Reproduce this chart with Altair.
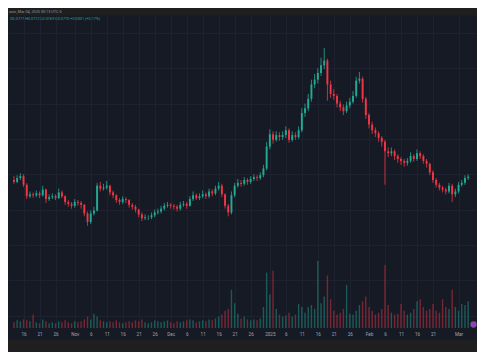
import altair as alt
import pandas as pd

# ---- data (prices in units of 0.0001) ----
first_date = "2024-10-13"
first_open = 760
close = [754, 766, 772, 745, 709, 715, 712, 718, 712, 730,
         700, 706, 709, 703, 721, 709, 691, 685, 679, 691,
         688, 682, 655, 628, 655, 664, 742, 733, 736, 742,
         721, 712, 697, 691, 700, 697, 682, 676, 667, 652,
         640, 643, 643, 649, 658, 661, 670, 679, 682, 679,
         676, 670, 682, 685, 679, 700, 712, 703, 709, 715,
         709, 724, 718, 733, 742, 715, 679, 658, 712, 742,
         751, 748, 760, 754, 763, 769, 766, 775, 796, 865,
         904, 886, 901, 895, 901, 916, 886, 901, 895, 916,
         970, 985, 1015, 1060, 1075, 1096, 1120, 1135, 1060, 1030,
         1024, 1000, 988, 976, 994, 1006, 1024, 1072, 1078, 1015,
         964, 934, 916, 907, 892, 880, 850, 844, 850, 835,
         826, 820, 814, 820, 835, 826, 844, 835, 820, 811,
         784, 760, 745, 736, 730, 724, 742, 715, 724, 745,
         751, 766, 770]
high = [772, 775, 781, 778, 750, 724, 721, 727, 724, 742,
        733, 715, 718, 715, 733, 727, 712, 697, 691, 700,
        697, 694, 685, 661, 664, 676, 751, 754, 748, 757,
        745, 727, 715, 703, 709, 706, 700, 688, 682, 670,
        658, 652, 649, 658, 667, 670, 679, 688, 691, 688,
        685, 682, 691, 694, 691, 709, 724, 718, 718, 727,
        721, 733, 730, 742, 754, 748, 718, 685, 724, 751,
        763, 760, 769, 766, 772, 778, 775, 784, 808, 880,
        919, 913, 913, 910, 913, 928, 922, 913, 910, 928,
        985, 1000, 1030, 1075, 1093, 1111, 1144, 1174, 1141, 1072,
        1045, 1030, 1009, 997, 1006, 1018, 1039, 1084, 1099, 1084,
        1021, 970, 943, 925, 913, 898, 886, 862, 862, 856,
        841, 832, 826, 829, 847, 841, 856, 850, 841, 826,
        814, 790, 766, 751, 742, 736, 751, 748, 733, 754,
        760, 775, 778]
low = [748, 750, 760, 738, 700, 703, 704, 706, 703, 708,
       688, 694, 700, 697, 700, 703, 682, 676, 670, 673,
       679, 670, 646, 616, 622, 649, 661, 724, 727, 730,
       712, 703, 688, 682, 685, 688, 673, 667, 658, 643,
       631, 634, 634, 637, 643, 652, 655, 664, 673, 670,
       667, 661, 664, 676, 670, 676, 694, 697, 697, 703,
       700, 703, 709, 712, 727, 706, 670, 646, 652, 706,
       736, 739, 742, 745, 748, 757, 757, 760, 769, 790,
       856, 874, 880, 883, 886, 892, 877, 880, 886, 889,
       910, 958, 976, 1006, 1048, 1063, 1087, 1108, 1009, 1018,
       1012, 988, 976, 964, 970, 985, 1000, 1018, 1063, 1003,
       952, 922, 904, 895, 880, 865, 745, 832, 835, 823,
       814, 808, 802, 805, 814, 817, 820, 826, 811, 799,
       775, 751, 736, 727, 721, 715, 718, 691, 706, 718,
       739, 745, 760]
volume = [6, 8, 7, 9, 8, 7, 14, 6, 5, 9,
          7, 5, 6, 5, 7, 6, 8, 6, 5, 7,
          6, 7, 9, 12, 9, 15, 12, 8, 7, 6,
          7, 6, 8, 6, 5, 6, 7, 6, 8, 7,
          9, 6, 5, 6, 8, 7, 6, 7, 8, 6,
          5, 7, 6, 7, 8, 9, 8, 6, 7, 8,
          7, 9, 8, 10, 12, 14, 18, 20, 40, 26,
          15, 10, 12, 9, 8, 9, 8, 10, 22, 58,
          35, 60, 20, 14, 12, 13, 16, 12, 14, 25,
          22, 16, 22, 24, 20, 70, 26, 33, 55, 30,
          18, 14, 16, 20, 45, 15, 14, 18, 24, 28,
          33, 22, 18, 14, 16, 20, 66, 24, 16, 14,
          15, 25, 18, 14, 16, 20, 28, 30, 22, 18,
          20, 25, 18, 16, 30, 22, 20, 40, 22, 18,
          25, 24, 28]

tick_dates = ["2024-10-16", "2024-10-21", "2024-10-26", "2024-11-01", "2024-11-06",
              "2024-11-11", "2024-11-16", "2024-11-21", "2024-11-26", "2024-12-01",
              "2024-12-06", "2024-12-11", "2024-12-16", "2024-12-21", "2024-12-26",
              "2025-01-01", "2025-01-06", "2025-01-11", "2025-01-16", "2025-01-21",
              "2025-01-26", "2025-02-01", "2025-02-06", "2025-02-11", "2025-02-16",
              "2025-02-21", "2025-03-01"]
grid_prices = [1222, 1111, 1000, 889, 778, 667, 556, 445, 334]

header_text = "coin, Mar 04, 2025 00:13 UTC-5"
ohlc_text = "O0.0771 H0.0772 L0.0769 C0.0770 +0.0001 (+0.17%)"

# ---- styling ----
BG = "#161a25"
STRIP = "#1f1f1f"
GRID = "#1e2230"
UP = "#22ab94"
DOWN = "#f23645"
W, H = 469, 320

opens = [first_open] + close[:-1]
dates = pd.date_range(first_date, periods=len(close), freq="D").strftime("%Y-%m-%dT%H:%M:%SZ")
df = pd.DataFrame({
    "date": dates,
    "open": [v / 10000 for v in opens],
    "close": [v / 10000 for v in close],
    "high": [v / 10000 for v in high],
    "low": [v / 10000 for v in low],
    "volume": volume,
})


def dt(s, h=0, m=0):
    y, mo, d = (int(p) for p in s.split("-"))
    return alt.DateTime(year=y, month=mo, date=d, hours=h, minutes=m, utc=True)


xscale = alt.Scale(type="utc", domain=[dt("2024-10-12", 16, 54), dt("2025-03-05", 4, 48)])
xaxis = alt.Axis(
    values=[dt(s) for s in tick_dates],
    labelExpr="utcdate(datum.value) == 1 ? (utcmonth(datum.value) == 0 ? utcFormat(datum.value, '%Y') : utcFormat(datum.value, '%b')) : utcFormat(datum.value, '%-d')",
    grid=True, gridColor=GRID, gridWidth=1,
    domain=False, ticks=False, title=None,
    labelColor="#a3a6af", labelFontSize=4.6, labelFont="Roboto",
    labelPadding=3, labelOverlap=False, labelFlush=False,
)
x = alt.X("date:T", scale=xscale, axis=xaxis)

yscale = alt.Scale(domain=[0.02953, 0.13], zero=False, nice=False)
yaxis = alt.Axis(values=[v / 10000 for v in grid_prices], labels=False, ticks=False,
                 domain=False, grid=True, gridColor=GRID, title=None)

color = alt.condition("datum.close >= datum.open", alt.value(UP), alt.value(DOWN))

base = alt.Chart(df)
wick = base.mark_rule(strokeWidth=0.8).encode(
    x=x, y=alt.Y("low:Q", scale=yscale, axis=yaxis), y2="high:Q", color=color)
body = base.mark_bar(size=1.9).encode(
    x=x, y=alt.Y("open:Q", scale=yscale, axis=yaxis), y2="close:Q", color=color)
price = alt.layer(wick, body)

vol = base.mark_bar(size=1.4, opacity=0.45).encode(
    x=x,
    y=alt.Y("volume:Q", scale=alt.Scale(domain=[0, 334.9], nice=False), axis=None),
    color=color,
)

one = alt.Chart(pd.DataFrame({"k": [0]}))
top_strip = one.mark_rect(color=STRIP).encode(
    x=alt.value(0), x2=alt.value(W), y=alt.value(0), y2=alt.value(7.6))
bottom_strip = one.mark_rect(color=STRIP).encode(
    x=alt.value(0), x2=alt.value(W), y=alt.value(331.6), y2=alt.value(344))
header = one.mark_text(align="left", baseline="middle", fontSize=3.8, font="Roboto",
                       color="#9598a1").encode(
    x=alt.value(1), y=alt.value(3.8), text=alt.value(header_text))
ohlc = one.mark_text(align="left", baseline="middle", fontSize=3.8, font="Roboto",
                     color=UP).encode(
    x=alt.value(2), y=alt.value(10.5), text=alt.value(ohlc_text))
badge = one.mark_circle(size=40, color="#8e44ad", opacity=1).encode(
    x=alt.value(465.5), y=alt.value(316.5))

chart = alt.layer(vol, price, top_strip, bottom_strip, header, ohlc, badge).resolve_scale(
    y="independent"
).properties(
    width=W, height=H, padding=0, background=BG
).configure_view(stroke=None)

chart.save("out.html", embed_options={"renderer": "svg", "actions": False})
